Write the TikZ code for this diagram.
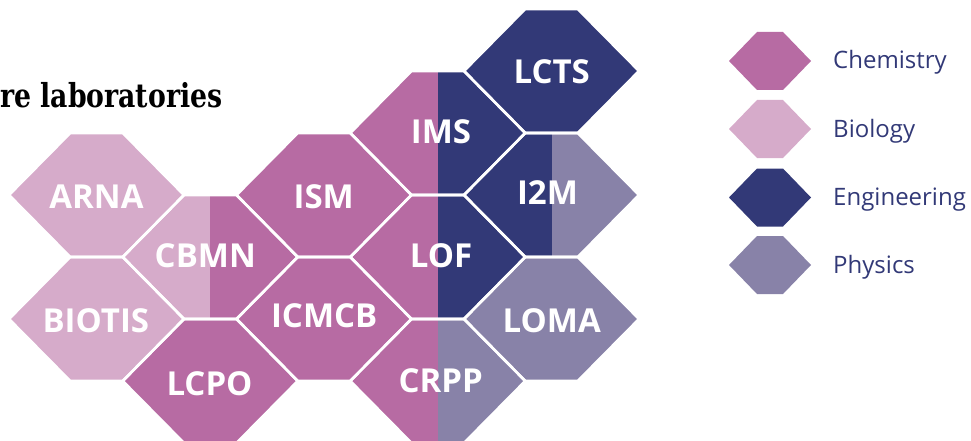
\documentclass[tikz,border=0pt]{standalone}
\usepackage{fontspec}
\newfontfamily\labfont{Open Sans}
\newfontfamily\titlefont{DejaVu Serif}[FakeStretch=0.81]
\definecolor{chem}{HTML}{B76BA3}
\definecolor{bio}{HTML}{D6ABCA}
\definecolor{eng}{HTML}{323977}
\definecolor{phys}{HTML}{8882A8}
\tikzset{
  hexedge/.style={draw=white, line width=2.6pt, line join=miter},
  labtext/.style={text=white, font=\labfont\bfseries\fontsize{33}{33}\selectfont, anchor=base, inner sep=0pt},
  legtext/.style={text=eng, font=\labfont\fontsize{24}{24}\selectfont, anchor=base west, inner sep=0pt},
  titletext/.style={text=black, font=\titlefont\bfseries\fontsize{33}{33}\selectfont, anchor=base west, inner sep=0pt}
}
\newcommand\HexFill[4]{%
  \begin{scope}
    \clip (#1-87.5,#2) -- (#1-26.25,#2-62) -- (#1+26.25,#2-62) -- (#1+87.5,#2) -- (#1+26.25,#2+62) -- (#1-26.25,#2+62) -- cycle;
    \fill[#3] (#1-90,#2-64) rectangle (#1+0.6,#2+64);
    \fill[#4] (#1,#2-64) rectangle (#1+90,#2+64);
  \end{scope}}
\newcommand\HexEdge[2]{%
  \draw[hexedge] (#1-87.5,#2) -- (#1-26.25,#2-62) -- (#1+26.25,#2-62) -- (#1+87.5,#2) -- (#1+26.25,#2+62) -- (#1-26.25,#2+62) -- cycle;}
\newcommand\LegHex[3]{%
  \fill[#3] (#1-41,#2) -- (#1-13,#2-29) -- (#1+13,#2-29) -- (#1+41,#2) -- (#1+13,#2+29) -- (#1-13,#2+29) -- cycle;}
\begin{document}
\begin{tikzpicture}[x=1pt,y=-1pt]
\useasboundingbox (0,0) rectangle (971,441);
\clip (0,0) rectangle (971,441);
% fills
\foreach \cx/\cy/\lc/\rc in {
  96.5/195/bio/bio, 96.5/319/bio/bio,
  210.25/257/bio/chem, 210.25/381/chem/chem,
  324/195/chem/chem, 324/319/chem/chem,
  437.75/133/chem/eng, 437.75/257/chem/eng, 437.75/381/chem/phys,
  551.5/71/eng/eng, 551.5/195/eng/phys, 551.5/319/phys/phys}
  {\HexFill{\cx}{\cy}{\lc}{\rc}}
% white borders
\foreach \cx/\cy in {96.5/195, 96.5/319, 210.25/257, 210.25/381, 324/195, 324/319,
  437.75/133, 437.75/257, 437.75/381, 551.5/71, 551.5/195, 551.5/319}
  {\HexEdge{\cx}{\cy}}
% labels
\node[labtext] (arna) at (96.5,208) {ARNA};
\node[labtext] (biotis) at (95.8,332) {BIOTIS};
\node[labtext] (cbmn) at (205.3,267) {CBMN};
\node[labtext] (lcpo) at (209.5,395) {LCPO};
\node[labtext] (ism) at (323.7,208) {ISM};
\node[labtext] (icmcb) at (324.2,327) {ICMCB};
\node[labtext] (ims) at (441,143) {IMS};
\node[labtext] (lof) at (441,267) {LOF};
\node[labtext] (crpp) at (440.7,392) {CRPP};
\node[labtext] (lcts) at (551.7,84) {LCTS};
\node[labtext] (i2m) at (547.5,204) {I2M};
\node[labtext] (loma) at (551.7,332) {LOMA};
% title
\node[titletext] (title) at (0,108) {re laboratories};
% legend
\LegHex{770}{61}{chem}
\LegHex{770}{129}{bio}
\LegHex{770}{197.5}{eng}
\LegHex{770}{265}{phys}
\node[legtext] (lchem) at (833,69) {Chemistry};
\node[legtext] (lbio) at (833,137) {Biology};
\node[legtext] (leng) at (833,205.5) {Engineering};
\node[legtext] (lphys) at (833,273) {Physics};
\end{tikzpicture}
\end{document}
